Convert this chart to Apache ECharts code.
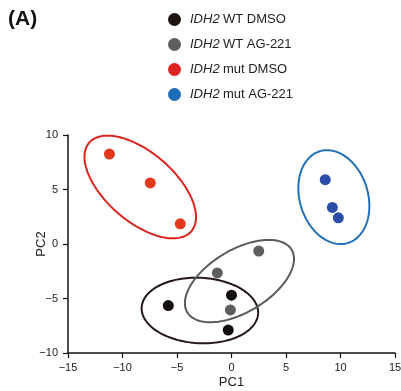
<!DOCTYPE html>
<html>
<head>
<meta charset="utf-8">
<script src="https://cdn.jsdelivr.net/npm/echarts@6/dist/echarts.min.js"></script>
<style>
  html, body { margin: 0; padding: 0; background: #fff; }
  #chart { width: 401px; height: 391px; }
</style>
</head>
<body>
<div id="chart"></div>
<script>
// groups and PCA scores
var groups = ['IDH2 WT DMSO', 'IDH2 WT AG-221', 'IDH2 mut DMSO', 'IDH2 mut AG-221'];
var wtDmso = [[-5.8, -5.65], [0.0, -4.7], [-0.3, -7.9]];
var wtAg = [[-1.3, -2.65], [2.5, -0.65], [-0.1, -6.05]];
var mutDmso = [[-11.2, 8.25], [-7.45, 5.6], [-4.7, 1.85]];
var mutAg = [[8.6, 5.9], [9.25, 3.35], [9.8, 2.4]];
// ellipse: centre x, centre y, semi-major, semi-minor, angle (deg)
var ellipses = [
  [-2.9, -6.1, 5.35, 3.0, -3],
  [0.73, -3.4, 5.58, 2.86, 31],
  [-8.37, 5.23, 6.2, 3.15, -41],
  [9.39, 4.3, 4.4, 3.13, 107]
];
var pointColors = ['#120c0c', '#5e5e5e', '#e2391e', '#2a4ea8'];
var ringColors = ['#231816', '#5a5a5a', '#dc241f', '#2170b8'];
var legendColors = ['#1d1412', '#5e5e5e', '#dd2422', '#1f6bb5'];
var xTicks = [-15, 15, 5];
var yTicks = [-10, 10, 5];

var allData = [wtDmso, wtAg, mutDmso, mutAg];

function minus(v) {
  return v < 0 ? '\u2212' + Math.abs(v) : String(v);
}

var myChart = echarts.init(document.getElementById('chart'));

var series = [];
series.push({
  name: 'ellipses',
  type: 'custom',
  silent: true,
  z: 1,
  data: ellipses,
  renderItem: function (params, api) {
    var cx = api.value(0), cy = api.value(1);
    var a = api.value(2), b = api.value(3);
    var t = api.value(4) * Math.PI / 180;
    var pts = [];
    for (var k = 0; k <= 144; k++) {
      var s = k / 144 * Math.PI * 2;
      var x = cx + a * Math.cos(s) * Math.cos(t) - b * Math.sin(s) * Math.sin(t);
      var y = cy + a * Math.cos(s) * Math.sin(t) + b * Math.sin(s) * Math.cos(t);
      pts.push(api.coord([x, y]));
    }
    return {
      type: 'polyline',
      shape: { points: pts },
      style: { fill: null, stroke: ringColors[params.dataIndex], lineWidth: 2 }
    };
  }
});
for (var i = 0; i < groups.length; i++) {
  series.push({
    name: groups[i],
    type: 'scatter',
    z: 3,
    symbolSize: 11,
    itemStyle: { color: pointColors[i], opacity: 1 },
    data: allData[i]
  });
}

var option = {
  animation: false,
  textStyle: { fontFamily: 'Liberation Sans, Arial, sans-serif' },
  graphic: [{
    type: 'text',
    left: 8,
    top: 9,
    style: { text: '(A)', font: 'bold 21px Liberation Sans, Arial, sans-serif', fill: '#111' }
  }],
  legend: {
    orient: 'vertical',
    left: 163,
    top: 8,
    icon: 'circle',
    itemWidth: 13,
    itemHeight: 13,
    itemGap: 12,
    data: groups.map(function (g, i) {
      return { name: g, itemStyle: { color: legendColors[i] } };
    }),
    formatter: function (name) {
      return '{i|IDH2} {n|' + name.replace('IDH2 ', '') + '}';
    },
    textStyle: {
      padding: [0, 0, 0, 4],
      rich: {
        i: { fontStyle: 'italic', fontSize: 13, color: '#222', lineHeight: 13 },
        n: { fontSize: 13, color: '#222', lineHeight: 13 }
      }
    }
  },
  grid: { left: 68, right: 6, top: 135, bottom: 38, outerBoundsMode: 'none' },
  xAxis: {
    type: 'value',
    min: xTicks[0], max: xTicks[1], interval: xTicks[2],
    name: 'PC1',
    nameLocation: 'middle',
    nameGap: 23,
    nameMoveOverlap: false,
    nameTextStyle: { fontSize: 13, color: '#222' },
    splitLine: { show: false },
    axisLine: { onZero: false, lineStyle: { color: '#111', width: 1.5 } },
    axisTick: { length: 5, lineStyle: { color: '#111', width: 1.2 } },
    axisLabel: { formatter: minus, fontSize: 11, color: '#222', margin: 9 }
  },
  yAxis: {
    type: 'value',
    min: yTicks[0], max: yTicks[1], interval: yTicks[2],
    name: 'PC2',
    nameLocation: 'middle',
    nameGap: 20,
    nameMoveOverlap: false,
    nameTextStyle: { fontSize: 13, color: '#222' },
    splitLine: { show: false },
    axisLine: { onZero: false, lineStyle: { color: '#111', width: 1.5 } },
    axisTick: { length: 5, lineStyle: { color: '#111', width: 1.2 } },
    axisLabel: { formatter: minus, fontSize: 11, color: '#222', margin: 10 }
  },
  series: series
};
myChart.setOption(option, true);
</script>
</body>
</html>
